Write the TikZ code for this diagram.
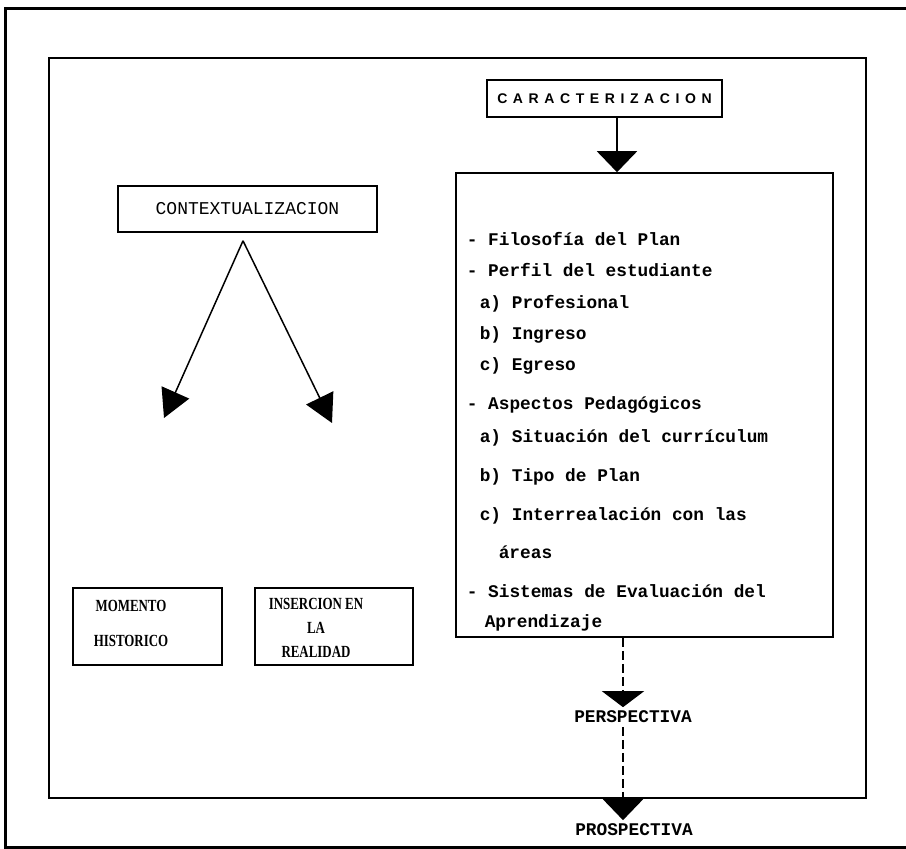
\documentclass[tikz,border=0pt]{standalone}
\usepackage{fontspec}
\setmainfont{Liberation Serif}
\newfontfamily\typefont{Liberation Mono}
\newfontfamily\spacedfont[LetterSpace=40]{Liberation Sans}
\newfontfamily\condfont[FakeStretch=0.76]{Liberation Serif}
\usetikzlibrary{arrows.meta,positioning,calc}
\tikzset{
every picture/.style={
line width=1.6pt
}}
\tikzset{
  box/.style={draw, rectangle, inner sep=0pt},
  typed/.style={font=\typefont\bfseries\fontsize{17.8}{20}\selectfont},
  plain/.style={font=\typefont\fontsize{18}{20}\selectfont},
  item/.style={typed, anchor=base west, inner sep=0pt},
  caps/.style={font=\condfont\bfseries\fontsize{17}{24}\selectfont, align=center, inner sep=0pt},
  fatarrow/.style={line width=2.2pt, -{Triangle[width=40pt,length=21pt]}},
  varrow/.style={line width=1.5pt, -{Triangle[width=30pt,length=28pt]}},
  dashline/.style={line width=2pt, dash pattern=on 9pt off 4pt}
}
\begin{document}
\begin{tikzpicture}[x=1pt,y=-1pt]
  \useasboundingbox (0,0) rectangle (906,849);

  % frames
  \draw[line width=3pt] (906,8) -- (5,8) -- (5,847) -- (906,847);
  \draw[line width=2pt] (49,58) rectangle (866,798);

  % right column
  \node[box, minimum width=235pt, minimum height=37pt,
        font=\spacedfont\bfseries\fontsize{14}{16}\selectfont] (car) at (604.5,98.5) {CARACTERIZACION};
  \node[box, minimum width=377pt, minimum height=464pt] (plan) at (644.5,405) {};

  \foreach [count=\i] \yy/\xx/\txt in {
      240/466/{- Filosofía del Plan},
      271/466/{- Perfil del estudiante},
      303/479/{a) Profesional},
      334/479/{b) Ingreso},
      365/479/{c) Egreso},
      404/466/{- Aspectos Pedagógicos},
      437/479/{a) Situación del currículum},
      476/479/{b) Tipo de Plan},
      515/479/{c) Interrealación con las},
      553/498/{áreas},
      592/466/{- Sistemas de Evaluación del},
      622/484/{Aprendizaje}} {
    \node[item] (item\i) at (\xx,\yy+5) {\txt};
  }

  \coordinate (cartop) at ([xshift=12.5pt]car.south);
  \draw[fatarrow] (cartop) -- (cartop |- plan.north);

  \node[typed, inner sep=3pt] (persp) at (633,717) {PERSPECTIVA};
  \node[typed, inner sep=3pt] (prosp) at (634,830) {PROSPECTIVA};
  \coordinate (planout) at ([xshift=-21.5pt]plan.south);
  \draw[dashline, -{Triangle[width=42pt,length=16pt]}] (planout) -- (planout |- persp.north);
  \draw[dashline, -{Triangle[width=40pt,length=21pt]}] (planout |- persp.south) -- (planout |- prosp.north);

  % left column
  \node[box, minimum width=259pt, minimum height=46pt, plain] (ctx) at (247.5,209) {CONTEXTUALIZACION};
  \node[box, minimum width=149pt, minimum height=77pt] (mom) at (147.5,626.5) {};
  \node[box, minimum width=158pt, minimum height=77pt] (ins) at (334,626.5) {};
  \node[caps] (momtxt) at (131,623) {MOMENTO\\[11pt]HISTORICO};
  \node[caps] (instxt) at (316,628) {INSERCION EN\\LA\\REALIDAD};

  \coordinate (apex) at ([xshift=-4.5pt,yshift=-8pt]ctx.south);
  \coordinate (momtip) at (164,418);
  \coordinate (instip) at (332,423);
  \draw[varrow] (apex) -- (momtip);
  \draw[varrow] (apex) -- (instip);
\end{tikzpicture}
\end{document}
